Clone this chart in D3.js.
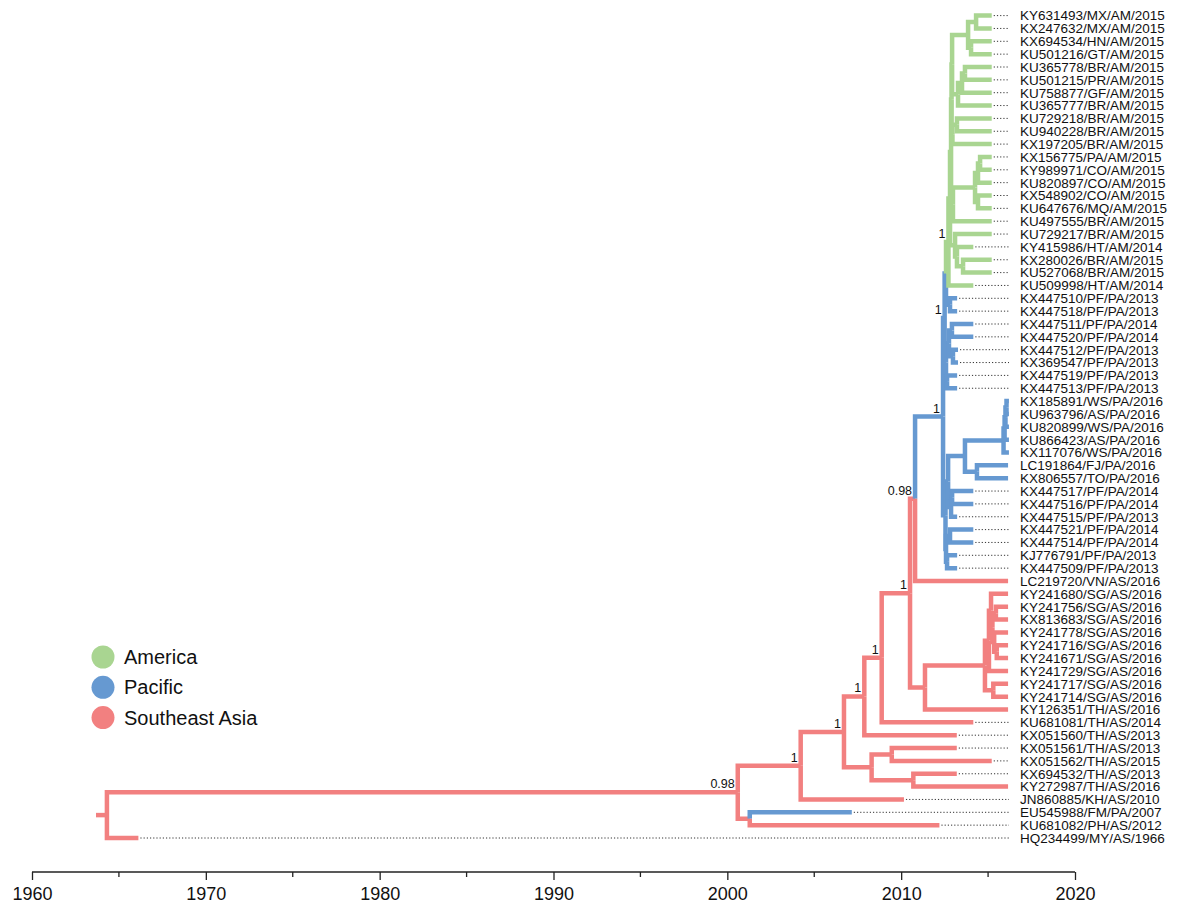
<!DOCTYPE html>
<html>
<head>
<meta charset="utf-8">
<style>
    body { margin: 0; background: #fff; }
    svg { display: block; font-family: "Liberation Sans", Arial, Helvetica, sans-serif; }
    .tip-label { font-size: 13.5px; fill: #111; }
    .node-label { font-size: 12.5px; fill: #111; }
    .axis text { font-size: 18px; fill: #111; }
    .axis path, .axis line { stroke: #222; stroke-width: 1.3; }
    .legend text { font-size: 20px; fill: #111; }
</style>
</head>
<body>
<svg width="1180" height="905"></svg>
<script src="https://d3js.org/d3.v7.min.js"></script>
<script>
    // tips, top to bottom
    const tipNames = [
        "KY631493/MX/AM/2015", "KX247632/MX/AM/2015", "KX694534/HN/AM/2015", "KU501216/GT/AM/2015",
        "KU365778/BR/AM/2015", "KU501215/PR/AM/2015", "KU758877/GF/AM/2015", "KU365777/BR/AM/2015",
        "KU729218/BR/AM/2015", "KU940228/BR/AM/2015", "KX197205/BR/AM/2015", "KX156775/PA/AM/2015",
        "KY989971/CO/AM/2015", "KU820897/CO/AM/2015", "KX548902/CO/AM/2015", "KU647676/MQ/AM/2015",
        "KU497555/BR/AM/2015", "KU729217/BR/AM/2015", "KY415986/HT/AM/2014", "KX280026/BR/AM/2015",
        "KU527068/BR/AM/2015", "KU509998/HT/AM/2014",
        "KX447510/PF/PA/2013", "KX447518/PF/PA/2013", "KX447511/PF/PA/2014", "KX447520/PF/PA/2014",
        "KX447512/PF/PA/2013", "KX369547/PF/PA/2013", "KX447519/PF/PA/2013", "KX447513/PF/PA/2013",
        "KX185891/WS/PA/2016", "KU963796/AS/PA/2016", "KU820899/WS/PA/2016", "KU866423/AS/PA/2016",
        "KX117076/WS/PA/2016", "LC191864/FJ/PA/2016", "KX806557/TO/PA/2016", "KX447517/PF/PA/2014",
        "KX447516/PF/PA/2014", "KX447515/PF/PA/2013", "KX447521/PF/PA/2014", "KX447514/PF/PA/2014",
        "KJ776791/PF/PA/2013", "KX447509/PF/PA/2013",
        "LC219720/VN/AS/2016", "KY241680/SG/AS/2016", "KY241756/SG/AS/2016", "KX813683/SG/AS/2016",
        "KY241778/SG/AS/2016", "KY241716/SG/AS/2016", "KY241671/SG/AS/2016", "KY241729/SG/AS/2016",
        "KY241717/SG/AS/2016", "KY241714/SG/AS/2016", "KY126351/TH/AS/2016", "KU681081/TH/AS/2014",
        "KX051560/TH/AS/2013", "KX051561/TH/AS/2013", "KX051562/TH/AS/2015", "KX694532/TH/AS/2013",
        "KY272987/TH/AS/2016", "JN860885/KH/AS/2010", "EU545988/FM/PA/2007", "KU681082/PH/AS/2012",
        "HQ234499/MY/AS/1966"
    ];

    const tipDates = [
        2015.21, 2015.21, 2015.21, 2015.21, 2015.21, 2015.21, 2015.21, 2015.21,
        2015.21, 2015.21, 2015.21, 2015.21, 2015.21, 2015.21, 2015.21, 2015.21,
        2015.21, 2015.21, 2014.15, 2015.21, 2015.21, 2014.15,
        2013.22, 2013.22, 2014.15, 2014.15, 2013.27, 2013.27, 2013.22, 2013.22,
        2016.2, 2016.2, 2016.2, 2016.2, 2016.2, 2016.15, 2016.15, 2014.15,
        2014.15, 2013.22, 2014.15, 2014.15, 2013.22, 2013.22,
        2016.15, 2016.15, 2016.15, 2016.15, 2016.15, 2016.15, 2016.15, 2016.15,
        2016.15, 2016.15, 2016.15, 2014.15, 2013.2, 2013.2, 2015.21, 2013.2,
        2016.15, 2010.16, 2007.16, 2012.2, 1966.12
    ];

    const tipParents = [
        "g1", "g1", "g2b", "g2b", "g3", "g3", "g4", "g5", "g6", "g6", "Ga3", "g8",
        "g8", "g9", "g10", "g10", "Gb", "Z", "Z2", "Z3", "Z3", "G0",
        "c1", "c1", "c2", "c2", "c3", "c3", "c4", "c4",
        "w3", "w3", "w2", "w1", "W", "F", "F", "Q2",
        "Q2", "Q3", "c5", "c5", "c6", "c6",
        "n6", "S5", "s7", "s7", "s8", "s9", "s9", "S1",
        "S4", "S4", "n7", "n4", "n3", "C", "C", "D",
        "D", "n1", "L", "L", "root"
    ];

    // internal nodes
    const nodeIds = [
        "root", "n0", "L", "n1", "n2", "n3", "n4", "n5", "n6", "n7", "B", "C", "D",
        "S0", "S1", "S5", "S6", "s7", "s8", "s9", "S4",
        "P0", "Pa", "P1", "c1", "Pc", "Pd", "c2", "c3", "c4",
        "G0", "Gmain", "Gtop", "Ga", "Ga1", "g2", "g1", "g2b", "g5", "g4", "g3", "Ga3", "g6",
        "Gb", "g11", "g9", "g8", "g10", "Z", "Z2", "Z3",
        "Pb", "Q1", "T16", "W", "w1", "w2", "w3", "F", "Q3", "Q2", "Q4", "c5", "c6"
    ];
    const nodeParents = [
        null, "root", "n0", "n0", "n1", "n2", "n3", "n4", "n5", "n5", "n2", "B", "B",
        "n7", "S0", "S1", "S5", "S6", "S6", "s8", "S0",
        "n6", "P0", "Pa", "P1", "Pa", "Pc", "Pd", "Pd", "Pc",
        "P1", "G0", "Gmain", "Gtop", "Ga", "Ga1", "g2", "g2", "Ga1", "g5", "g4", "Ga", "Ga3",
        "Gtop", "Gb", "g11", "g9", "g11", "Gmain", "Z", "Z2",
        "P0", "Pb", "Q1", "T16", "W", "w1", "w2", "T16", "Q1", "Q3", "Pb", "Q4", "Q4"
    ];
    const nodeDates = [
        1964.31, 2000.6, 2001.29, 2004.22, 2006.71, 2007.88, 2008.88, 2010.51, 2010.8, 2011.37, 2008.3, 2009.46, 2010.7,
        2014.82, 2015.05, 2015.17, 2015.25, 2015.45, 2015.35, 2015.5, 2015.3,
        2012.41, 2012.5, 2012.58, 2012.81, 2012.58, 2012.75, 2012.92, 2012.98, 2012.64,
        2012.72, 2012.81, 2012.87, 2012.9, 2012.93, 2013.85, 2014.31, 2014.02, 2013.27, 2013.5, 2013.67, 2012.95, 2013.21,
        2012.98, 2014.25, 2014.42, 2014.54, 2014.42, 2013.1, 2013.21, 2013.56,
        2012.55, 2012.7, 2013.67, 2015.89, 2015.95, 2016.0, 2016.06, 2014.36, 2012.87, 2012.93, 2012.58, 2012.81, 2012.64
    ];
    const nodeRegions = [
        "AS", "AS", "AS", "AS", "AS", "AS", "AS", "AS", "AS", "AS", "AS", "AS", "AS",
        "AS", "AS", "AS", "AS", "AS", "AS", "AS", "AS",
        "PA", "PA", "PA", "PA", "PA", "PA", "PA", "PA", "PA",
        "AM", "AM", "AM", "AM", "AM", "AM", "AM", "AM", "AM", "AM", "AM", "AM", "AM",
        "AM", "AM", "AM", "AM", "AM", "AM", "AM", "AM",
        "PA", "PA", "PA", "PA", "PA", "PA", "PA", "PA", "PA", "PA", "PA", "PA", "PA"
    ];

    // posterior support labels
    const supportNodes = ["n0", "n1", "n2", "n3", "n4", "n5", "n6", "P0", "Pa", "G0"];
    const supportValues = ["0.98", "1", "1", "1", "1", "1", "0.98", "1", "1", "1"];

    const rootStubDate = 1963.68;

    const regionCodes = ["AM", "PA", "AS"];
    const regionNames = ["America", "Pacific", "Southeast Asia"];
    const regionColors = ["#a9d591", "#6699d1", "#f28080"];

    const axisTicks = [1960, 1970, 1980, 1990, 2000, 2010, 2020];
    const minorTicks = [1965, 1975, 1985, 1995, 2005, 2015];

    const svg = d3.select("svg");

    const color = d3.scaleOrdinal().domain(regionCodes).range(regionColors);

    const x = d3.scaleLinear().domain([1960, 2020]).range([32, 1075]);
    const y = d3.scaleLinear().domain([0, tipNames.length - 1]).range([15.6, 838]);

    // table for stratify
    let rows = nodeIds.map((id, i) => ({
        id: id, parent: nodeParents[i], date: nodeDates[i], region: nodeRegions[i], tip: -1
    }));
    tipNames.forEach((name, i) => {
        rows.push({ id: name, parent: tipParents[i], date: tipDates[i], region: name.split("/")[2], tip: i });
    });

    let root = d3.stratify().id(d => d.id).parentId(d => d.parent)(rows);

    root.eachAfter(n => {
        n.px = x(n.data.date);
        if (n.children) {
            let ys = n.children.map(c => c.py);
            n.py = (d3.min(ys) + d3.max(ys)) / 2;
        } else {
            n.py = y(n.data.tip);
        }
    });

    // axis
    let axisY = 872;
    svg.append("g")
        .attr("class", "axis")
        .attr("transform", `translate(0,${axisY})`)
        .call(d3.axisBottom(x).tickValues(axisTicks).tickFormat(d3.format("d")).tickSize(8).tickPadding(7))
        .call(g => g.select(".domain").attr("d", `M${x(1960)},0H${x(2020)}`));

    svg.select(".axis").selectAll(".minor")
        .data(minorTicks)
        .join("line")
        .attr("class", "minor")
        .attr("x1", d => x(d)).attr("x2", d => x(d))
        .attr("y1", 0).attr("y2", 5);

    // dotted leaders
    svg.append("g")
        .selectAll("line")
        .data(root.leaves().filter(d => d.px < 1006))
        .join("line")
        .attr("x1", d => d.px + 2)
        .attr("x2", 1009)
        .attr("y1", d => d.py)
        .attr("y2", d => d.py)
        .attr("stroke", "#333")
        .attr("stroke-width", 1)
        .attr("stroke-dasharray", "1.2,2");

    // branches
    let branches = svg.append("g")
        .attr("fill", "none")
        .attr("stroke-width", 4.5)
        .attr("stroke-linejoin", "miter");

    branches.append("path")
        .attr("d", `M${x(rootStubDate)},${root.py}H${root.px}`)
        .attr("stroke", color(root.data.region));

    branches.selectAll("path.branch")
        .data(root.descendants().filter(d => d.parent))
        .join("path")
        .attr("class", "branch")
        .attr("stroke", d => color(d.data.region))
        .attr("d", d => `M${d.parent.px},${d.parent.py}V${d.py}H${d.px}`);

    // tip labels
    svg.append("g")
        .selectAll("text")
        .data(root.leaves())
        .join("text")
        .attr("class", "tip-label")
        .attr("x", 1020)
        .attr("y", d => d.py)
        .attr("dy", "0.36em")
        .text(d => d.id);

    // support labels
    let byId = new Map(root.descendants().map(d => [d.id, d]));
    svg.append("g")
        .selectAll("text")
        .data(supportNodes)
        .join("text")
        .attr("class", "node-label")
        .attr("text-anchor", "end")
        .attr("x", d => byId.get(d).px - 3)
        .attr("y", d => byId.get(d).py - 4)
        .text((d, i) => supportValues[i]);

    // legend
    let legend = svg.append("g").attr("class", "legend");
    legend.selectAll("circle")
        .data(regionCodes)
        .join("circle")
        .attr("cx", 103)
        .attr("cy", (d, i) => 657 + i * 30.3)
        .attr("r", 11.5)
        .attr("fill", d => color(d));
    legend.selectAll("text")
        .data(regionNames)
        .join("text")
        .attr("x", 124)
        .attr("y", (d, i) => 657 + i * 30.3)
        .attr("dy", "0.35em")
        .text(d => d);
</script>
</body>
</html>
